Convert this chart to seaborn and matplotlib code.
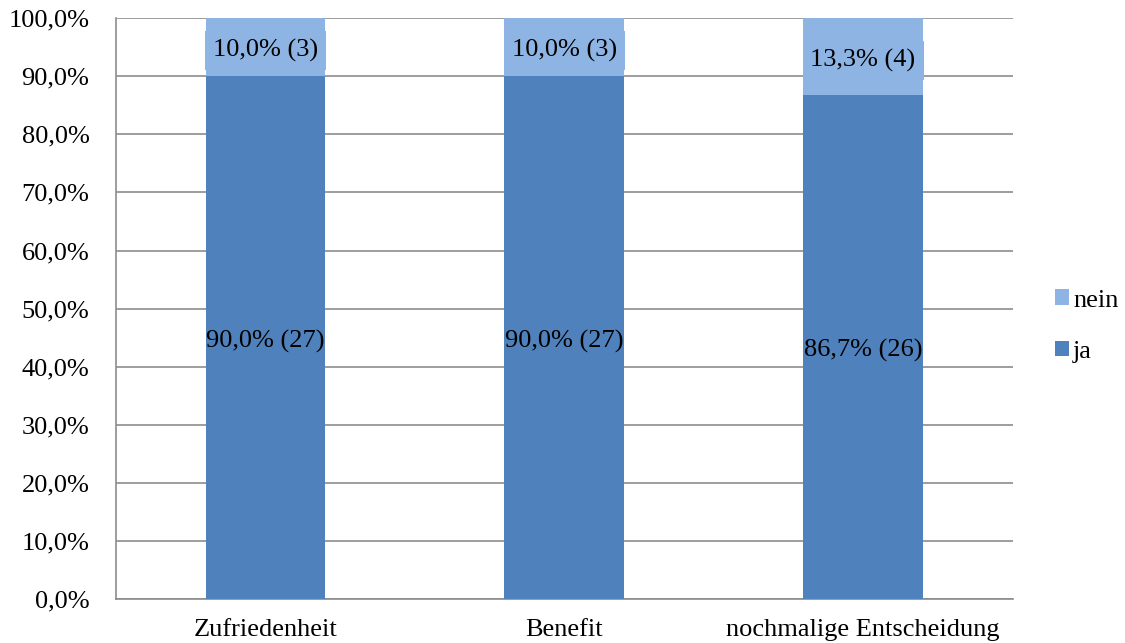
import matplotlib
matplotlib.use("Agg")
import matplotlib.pyplot as plt
import seaborn as sns
import pandas as pd
from matplotlib.ticker import FixedLocator, FuncFormatter

kategorien = ["Zufriedenheit", "Benefit", "nochmalige Entscheidung"]
ja_prozent = [90.0, 90.0, 86.7]
nein_prozent = [10.0, 10.0, 13.3]
ja_n = [27, 27, 26]
nein_n = [3, 3, 4]

farbe_ja = "#4F81BD"
farbe_nein = "#8EB4E3"

df = pd.DataFrame({"kategorie": kategorien, "ja": ja_prozent, "nein": nein_prozent})
df["gesamt"] = df["ja"] + df["nein"]

sns.set_style("white")
plt.rcParams["font.family"] = ["Liberation Serif", "DejaVu Serif"]
plt.rcParams["text.color"] = "black"
fs = 19

fig, ax = plt.subplots(figsize=(11.25, 6.43), dpi=100)
fig.subplots_adjust(left=0.103, right=0.9, top=0.972, bottom=0.068)

sns.barplot(data=df, x="kategorie", y="gesamt", color=farbe_nein, width=0.4,
            saturation=1, ax=ax, label="nein", zorder=3, linewidth=0)
sns.barplot(data=df, x="kategorie", y="ja", color=farbe_ja, width=0.4,
            saturation=1, ax=ax, label="ja", zorder=3, linewidth=0)

ax.set_xlim(-0.5, 2.5)
ax.set_ylim(0, 100)
ax.set_xlabel("")
ax.set_ylabel("")
ax.yaxis.set_major_locator(FixedLocator(range(0, 101, 10)))
ax.yaxis.set_major_formatter(FuncFormatter(lambda v, p: f"{v:.1f}%".replace(".", ",")))
ax.grid(axis="y", color="#8c8c8c", linewidth=1.2, zorder=0)
ax.set_axisbelow(True)

for s in ["top", "right"]:
    ax.spines[s].set_visible(False)
for s in ["left", "bottom"]:
    ax.spines[s].set_color("#8c8c8c")
    ax.spines[s].set_linewidth(1.2)

ax.tick_params(axis="y", labelsize=fs, length=6, color="#8c8c8c", width=1.2, pad=13)
ax.tick_params(axis="x", which="major", labelsize=fs, length=0, pad=14)
ax.xaxis.set_minor_locator(FixedLocator([-0.5, 0.5, 1.5, 2.5]))
ax.tick_params(axis="x", which="minor", length=6, color="#8c8c8c", width=1.2)
for t in ax.get_yticklabels() + ax.get_xticklabels():
    t.set_color("black")

for i in range(len(kategorien)):
    j = ja_prozent[i]
    n = nein_prozent[i]
    ax.text(i, j / 2 - 0.6, f"{j:.1f}% ({ja_n[i]})".replace(".", ","), ha="center",
            va="center", fontsize=fs, color="black", zorder=5)
    ax.text(i, j + n / 2 - 0.6, f"{n:.1f}% ({nein_n[i]})".replace(".", ","), ha="center",
            va="center", fontsize=fs, color="black", zorder=5,
            bbox=dict(boxstyle="square,pad=0.3", facecolor=farbe_nein, edgecolor="none"))

handles, labels = ax.get_legend_handles_labels()
leg = ax.legend(handles, labels, loc="center left", bbox_to_anchor=(1.047, 0.47),
                frameon=False, fontsize=fs, handlelength=0.55, handleheight=0.55,
                handletextpad=0.15, labelspacing=1.1, borderaxespad=0, borderpad=0)
for t in leg.get_texts():
    t.set_color("black")

fig.savefig("out.png", dpi=100)
